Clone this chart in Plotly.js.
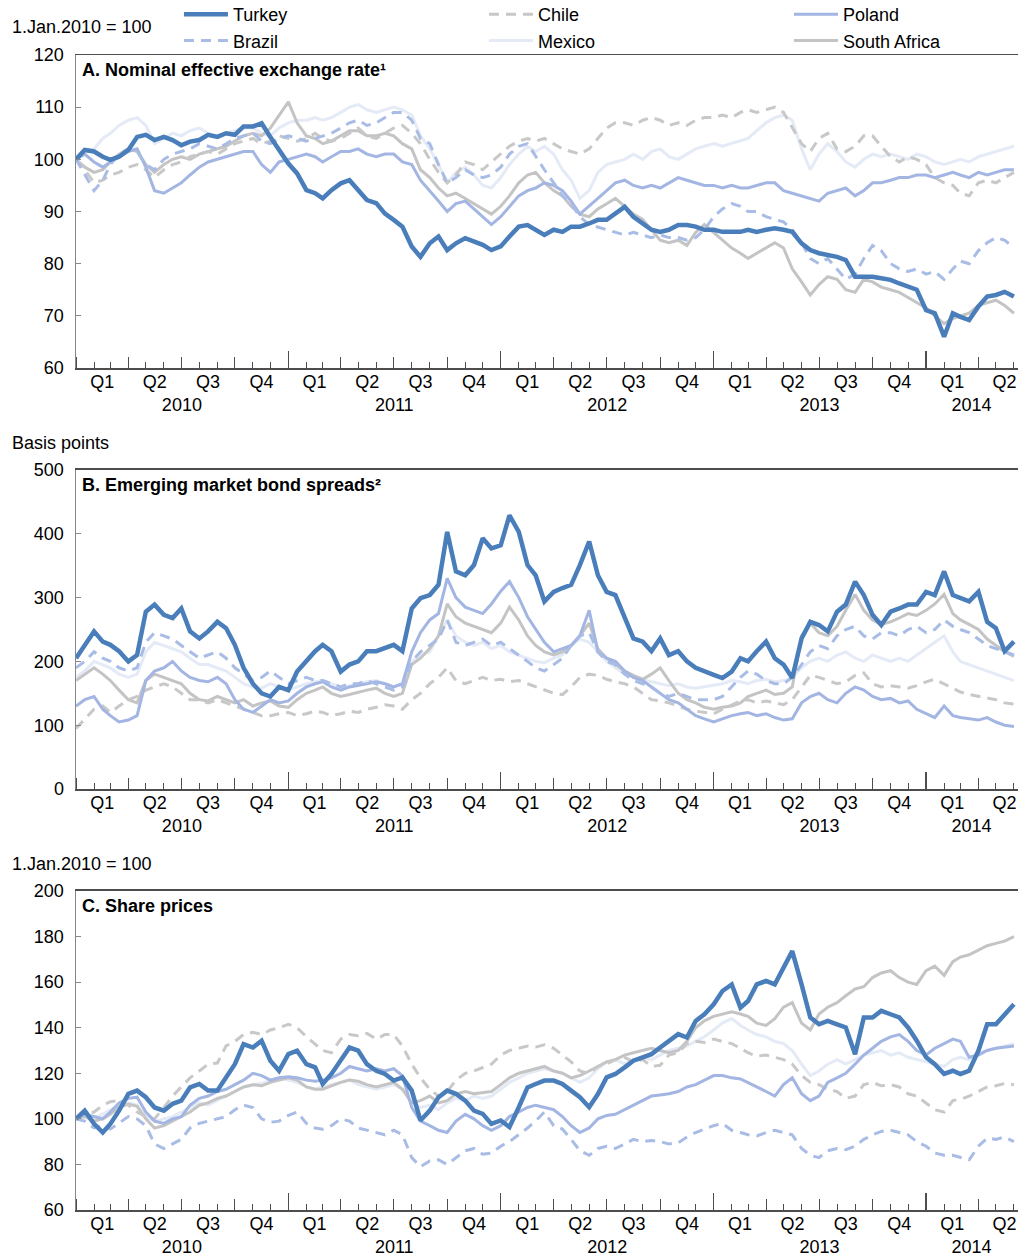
<!DOCTYPE html>
<html><head><meta charset="utf-8">
<script src="https://cdn.plot.ly/plotly-3.0.1.min.js"></script>
<style>html,body{margin:0;padding:0;background:#fff;} #chart{width:1018px;height:1260px;}</style>
</head><body><div id="chart"></div>
<script>
// Sampling grid: 1st and 16th of each month, Jan 2010 - Jun 2014
const dates = [];
for (let y = 2010; y <= 2014; y++) for (let m = 1; m <= 12; m++) for (const d of [1, 16]) {
  const s = y + '-' + String(m).padStart(2, '0') + '-' + String(d).padStart(2, '0');
  if (s <= '2014-06-01') dates.push(s);
}

// Panel A: nominal effective exchange rate (1 Jan 2010 = 100)
const neerTurkey = [100,101.8,101.5,100.5,99.9,100.5,101.8,104.3,104.7,103.7,
104.3,103.7,102.7,103.4,103.7,104.7,104.3,105,104.7,106.3,
106.3,106.9,104.3,101.8,99.2,97.3,94.1,93.5,92.5,94.1,
95.4,96,94.1,92.2,91.6,89.6,88.4,87.1,83.3,81.3,
83.9,85.2,82.6,83.9,84.9,84.2,83.6,82.6,83.3,85.2,
87.1,87.4,86.5,85.5,86.5,86.1,87.1,87.1,87.7,88.4,
88.4,89.6,90.9,89,87.7,86.5,86.1,86.5,87.4,87.4,
87.1,86.5,86.5,86.1,86.1,86.1,86.5,86.1,86.5,86.8,
86.5,86.1,83.9,82.6,82,81.7,81.3,80.7,77.5,77.5,
77.5,77.2,76.9,76.2,75.6,75,71.1,70.5,66,70.5,
69.8,69.2,71.8,73.7,74,74.6,73.7];
const neerBrazil = [100,97,94,96,99,101,102,101.5,99,98,
100,101,101.5,102,103,102.5,102,103,104,104.5,
105,103.5,103,104,104.5,104,103.5,104,104.5,105,
106,107,107.5,106.5,107,108,109,109,107.5,104,
103,99,95.5,96.5,98,97,96.5,97,98.5,101,
102.5,103,100.5,98,95.5,93,91.5,89,87.5,87,
86.5,86,85.5,86,85.5,85,85.5,85,85,84.5,
85,86.5,89,90.5,91.5,91,90,90,89,88.5,
88,86.5,84,81,80,81,79,77,78,81,
83.5,82.5,80,79,78.5,79,78,78.5,77,79,
80.5,80,82.5,84,85,84.5,83];
const neerChile = [100,98,95.5,96,97,97.5,98.5,99,98,96.5,
98,99,99.5,100.5,101,101.5,101,102,103,103.5,
104,103,103.5,104.5,104,103.5,104,105,104,103.5,
104,105,106,104.5,104,105,106,106.5,105,103,
100,97.5,95.5,97,99.5,99,98,99.5,101,102.5,
103.5,104,103.5,104,103,102,101.5,101,102,104,
106,107,107,106.5,107.5,108,107.5,106.5,107,106.5,
107.5,108,108,108.5,108,109,109.5,109,109.5,110,
109,106,103,101.5,104,105,102,101.5,102.5,104.5,
104.5,102.5,100.5,99.5,100.5,100,99,96.5,95.5,95,
93.5,93,95.5,96,95.5,96.5,97.5];
const neerMexico = [100,101.5,102,104,105,106.5,107.5,108,106.5,103,
104,105,104.5,105.5,106,105,104.5,105,105.5,106,
106,105,104.5,106,107,107.5,107.5,108,107.5,108,
109,110,110.5,109.5,109,109.5,110,109.5,108.5,104.5,
102,99,95.5,97.5,98.5,97,95,94.5,96.5,99,
101,102.5,101.5,102.5,101,98,96,92.5,94,97.5,
99,99.5,100,101,100,101.5,102,100.5,100,101,
102,102.5,103,102.5,103,103.5,104,105.5,107,108,
108.5,107.5,102,98,101,103,101.5,99.5,98.5,100,
101,100.5,101,100.5,100,101,100.5,99.5,99,99.5,
100,99.5,100.5,101,101.5,102,102.5];
const neerPoland = [100,101,99.5,98.5,99.5,100.5,101.5,102,98.5,94,
93.5,94.5,95.5,97,98.5,99.5,100,100.5,101,101.5,
101.5,99,97.5,99.5,100,100.5,101,100.5,99.5,100.5,
101.5,101.5,102,101,100.5,101,101,99.5,99,96,
94,92,90,91.5,92,90.5,89,87.5,89,91,
93,94,94.5,95.5,95,94,92,89.5,91,92.5,
94,95.5,96,95,94.5,95,94.5,95.5,96.5,96,
95.5,95,95,94.5,95,94.5,94.5,95,95.5,95.5,
94,93.5,93,92.5,92,93.5,94,94.5,93,94,
95.5,95.5,96,96.5,96.5,97,97,96.5,97,97.5,
97,96.5,97.5,97,97.5,98,98];
const neerSouthAfrica = [100,98.5,97.5,98,99.5,101,102,101.5,99,97.5,
99,100,100.5,100,101,101.5,102,102.5,103.5,104.5,
105,104.5,106,108.5,111,107,104.5,104,103,103.5,
104.5,105.5,105.5,104.5,104.5,105,104.5,103,102,98,
96.5,94.5,93,93.5,92.5,91.5,90.5,89.5,91,93,
95.5,97,97.5,95.5,94,93,91,89.5,89,90.5,
91.5,92.5,91,89.5,88.5,86.5,84.5,84,84.5,83.5,
86,87.5,86,84.5,83,82,81,82,83,84,
83,79,76.5,74,76,77.5,77,75,74.5,77,
76.5,75.5,75,74.5,73.5,72.5,71.5,70,68.5,69.5,
70,70.5,72,72.5,73,72,70.5];

// Panel B: emerging market bond spreads (basis points)
const spreadTurkey = [205,226,247,231,226,216,200,210,278,289,
273,268,283,247,236,247,262,252,226,190,
165,150,145,160,155,184,200,216,226,216,
184,195,200,216,216,221,226,216,283,299,
304,320,403,341,335,351,393,377,382,429,
403,351,335,294,309,315,320,351,388,335,
309,304,268,236,231,216,236,210,216,200,
190,184,179,174,184,205,200,216,231,205,
195,174,236,262,257,247,278,289,325,304,
273,257,278,283,289,289,309,304,341,304,
299,294,309,262,252,216,231];
const spreadBrazil = [190,200,215,205,200,190,185,190,230,245,
240,235,225,215,205,210,215,205,190,180,
170,175,185,175,165,170,175,170,170,165,
160,165,165,170,165,160,155,160,200,215,
225,235,265,230,225,230,235,225,230,220,
210,200,190,185,195,205,225,240,245,215,
200,195,180,170,165,160,150,145,150,145,
140,140,140,145,160,175,185,180,170,165,
165,175,195,215,225,220,240,250,255,240,
235,245,245,240,250,255,245,250,265,255,
250,245,235,225,220,215,210];
const spreadChile = [95,110,125,130,120,130,140,145,155,160,
165,160,150,140,140,135,140,135,130,125,
120,115,115,118,120,115,118,122,120,115,
118,122,120,125,128,132,130,125,140,150,
165,175,190,170,165,170,175,170,172,168,
170,165,160,155,150,148,160,175,180,178,
172,168,165,160,150,140,138,135,130,125,
122,120,118,125,132,138,140,135,138,135,
132,140,160,178,175,170,165,168,178,182,
165,160,162,160,158,162,168,172,165,158,
152,148,145,142,140,135,133];
const spreadMexico = [175,185,200,195,190,180,175,180,215,230,
225,220,215,205,195,195,190,185,175,165,
160,158,165,160,155,160,165,168,170,165,
160,162,165,168,170,165,160,165,200,210,
215,240,265,240,230,225,230,220,225,215,
210,205,200,198,205,210,225,235,230,215,
200,190,180,175,172,168,165,162,165,160,
158,160,162,165,170,168,165,170,172,168,
170,175,190,200,205,200,210,215,205,200,
210,205,200,205,200,210,220,230,240,215,
200,195,190,185,180,175,170];
const spreadPoland = [130,140,145,125,115,105,108,115,170,185,
190,200,185,175,170,168,175,165,140,125,
120,130,140,135,138,150,160,165,168,160,
155,160,162,165,168,165,160,165,215,245,
265,275,330,300,285,280,275,290,310,325,
300,270,250,230,215,220,225,240,280,215,
205,200,185,175,170,160,150,140,135,125,
115,110,105,110,115,118,120,115,118,112,
108,110,135,145,150,140,135,150,160,155,
145,140,142,135,138,125,118,112,130,115,
112,110,108,112,105,100,98];
const spreadSouthAfrica = [170,180,190,180,170,155,140,135,170,180,
175,170,165,150,140,138,145,140,135,140,
130,135,138,130,128,140,150,155,160,150,
145,148,152,155,158,150,145,150,195,205,
220,240,290,270,260,255,250,245,260,285,
265,240,225,215,210,215,225,240,260,220,
205,195,185,178,172,180,190,170,150,140,
135,128,125,128,130,135,145,150,155,148,
150,160,240,260,245,240,255,280,305,280,
265,258,262,268,275,272,280,290,305,275,
265,258,250,235,225,215,208];

// Panel C: share prices (1 Jan 2010 = 100)
const shareTurkey = [100,103.6,97.8,94,97.8,103.6,111,112.4,109.5,105,
103.6,106.6,108,113.8,115.3,112.4,112.4,118.2,124,132.8,
131.3,134.3,125.5,121.1,128.4,129.9,124,122.6,115.3,119.7,
125.5,131.3,129.9,124,121.1,119.7,116.8,118.2,112.4,99.3,
103.6,109.5,112.4,111,108,103.6,102.2,97.8,99.3,96.4,
105.1,113.8,115.3,116.8,116.8,115.3,112.4,109.5,105.1,110.9,
118.2,119.7,122.6,125.5,127,128.4,131.3,134.3,137.2,135.7,
143,145.9,150.3,156.1,159,148.8,151.7,159,160.5,159,
166.3,173.6,159,144.5,141.5,143,141.5,140.1,128.4,144.5,
144.5,147.4,145.9,144.5,140.1,134.3,127,124,119.7,121.1,
119.7,121.1,129.9,141.5,141.5,145.9,150.3];
const shareBrazil = [100,99,96,97,95.5,98,101,100,97,89,
87,89,91,96,98,99,100,101,104,106,
105,100,98.5,99,101.5,103,98,96,95.5,97,
100,99,96,95,94,93,95,93,83,79,
81.5,82,80,83,86,87,84.5,85,88,90,
93,96,99,103,97,95.5,91,86,84,87,
88,87,89,91,90,90.5,90,89,89.5,92,
94,95.5,97,98,95,94,93,92.5,94,95,
94,93,87,84,83,86,87,86.5,88,91,
93,94.5,95,94,93,90,88,85,84,84,
83,82,88,91.5,91,92,90];
const shareChile = [100,102,103,106,107.5,108,106,103,101,100,
105,110,114,118,121,124,124.5,132,134,137,
138,137,139,140,141.5,140,136,133,130,129,
135,137,136.5,137.5,135,137,137,132,124,118,
113,110,112,117,120,121,122.5,124,128,130,
131,132,131.5,132.5,131,128,125,121,120,123,
124,126,127,125,126,123,123.5,128,129,133,
134,133.5,135,134,133,131,129,127.5,128,127,
126,124,119,116,115,113,112,109,110,115,
116,114.5,115,114,111,110,107,104,103,108,
108.5,110,112,114,114.5,115.5,115];
const shareMexico = [100,101,100,102,104,106,107,106,101,99,
100,101,103,105,107,106,108,110,112,114,
115,115.5,117,118,117,116,114,113,114,115,
116,117,115,114,113,114,115,113,107,105,
106,104,107,109,108,110,109,110,113,116,
118,120,121,122,121,120,118,116,118,122,
125,126,124,126,127,126,128,130,131,132,
134,136,139,142,144,141,139,137,136,134,
133,130,124,119,121,124,126,124,126,128,
129,130,128,129,127,126,125,124,123,126,
127,126,129,130,131,132,133];
const sharePoland = [100,102,101,100,103,107,109,109.5,103,99,
98,100,101,106,109,110,112,113,115,117,
120,119,117,118,118.5,118,117,116.5,117,118,
120,123,122,121,122,121,122,119,105,99,
97,95,94,99,102,100,97,95,97,101,
103,105,106,105,104,101,97,94,96,100,
101.5,102,104,106,108,110,110.5,111,112,114,
115,117,119,119,118,117.5,116,114,112,110,
115,118,111,108,110,116,118,120,124,128,
131,134,136,137,134,130,128,131,133,135,
134,127,128,130,131,131.5,132];
const shareSouthAfrica = [100,101,99,100,102,105,106.5,105.5,100,96,
97,99,101,103,106,107,109,110,112,114,
115,114.5,116,117,118,117,114,113,113,114.5,
116,117,116.5,115,114,115,116,113,107,108,
110,107,108,111,112,111,111.5,112,115,118,
120,121,122,123,121,120,118,119,121,123,
125,126,128,129,130,131,130,129,130,134,
140,143,145,146,147,146,145,142,141,144,
149,151,142,139,146,149,151,154,157,158,
162,164,165,162,160,159,165,167,163,169,
171,172,174,176,177,178,180];

const yearLabels = ['2010', '2011', '2012', '2013', '2014'];

const panels = [
  {xa: 'x', ya: 'y', yt: 'x4', yl: 'x7', legend: true, series: {'Turkey': neerTurkey, 'Brazil': neerBrazil, 'Chile': neerChile, 'Mexico': neerMexico, 'Poland': neerPoland, 'South Africa': neerSouthAfrica}},
  {xa: 'x2', ya: 'y2', yt: 'x5', yl: 'x8', legend: false, series: {'Turkey': spreadTurkey, 'Brazil': spreadBrazil, 'Chile': spreadChile, 'Mexico': spreadMexico, 'Poland': spreadPoland, 'South Africa': spreadSouthAfrica}},
  {xa: 'x3', ya: 'y3', yt: 'x6', yl: 'x9', legend: false, series: {'Turkey': shareTurkey, 'Brazil': shareBrazil, 'Chile': shareChile, 'Mexico': shareMexico, 'Poland': sharePoland, 'South Africa': shareSouthAfrica}}
];

const styles = {
  'Turkey':       {color: '#4a7ebb', width: 4.5, dash: 'solid', rank: 1},
  'Chile':        {color: '#c8c8c8', width: 3, dash: '10px,7px', rank: 2},
  'Poland':       {color: '#a3b5e2', width: 3, dash: 'solid', rank: 3},
  'Brazil':       {color: '#a8bce6', width: 3, dash: '10px,7px', rank: 4},
  'Mexico':       {color: '#e4eaf6', width: 3, dash: 'solid', rank: 5},
  'South Africa': {color: '#c4c4c4', width: 3, dash: 'solid', rank: 6}
};
const drawOrder = ['Mexico', 'South Africa', 'Chile', 'Poland', 'Brazil', 'Turkey'];

const traces = [];
panels.forEach(p => {
  drawOrder.forEach(name => {
    const st = styles[name];
    traces.push({
      type: 'scatter', mode: 'lines', name: name,
      x: dates, y: p.series[name], xaxis: p.xa, yaxis: p.ya,
      line: {color: st.color, width: st.width, dash: st.dash},
      showlegend: p.legend, legendrank: st.rank, hoverinfo: 'skip'
    });
  });
  // invisible carriers so the year-tick and year-label axes are drawn
  [p.yt, p.yl].forEach(ax => traces.push({
    type: 'scatter', mode: 'none', x: dates, y: p.series['Turkey'], xaxis: ax, yaxis: p.ya,
    showlegend: false, hoverinfo: 'skip'
  }));
});

const font = {family: 'Liberation Sans, Arial, sans-serif', size: 18, color: '#000'};
const xRange = ['2010-01-01', '2014-06-08'];
const axisDark = '#4d4d4d';

function quarterAxis(anchor) {
  return {domain: [0, 1], anchor: anchor, type: 'date', range: xRange, autorange: false,
    tick0: '2010-01-01', dtick: 'M3', tickformat: 'Q%q', ticklabelmode: 'period',
    ticks: 'inside', ticklen: 11, tickwidth: 1, tickcolor: axisDark,
    showline: true, linecolor: axisDark, linewidth: 1.5, mirror: true,
    showgrid: false, zeroline: false, tickfont: font, automargin: false, ticklabelstandoff: -3,
    minor: {tick0: '2010-01-01', dtick: 'M1', ticks: 'inside', ticklen: 6, tickwidth: 1, tickcolor: axisDark, showgrid: false}};
}
function yearTickAxis(overlay, anchor) {
  return {overlaying: overlay, anchor: anchor, side: 'bottom', type: 'date', range: xRange, autorange: false,
    tick0: '2010-01-01', dtick: 'M12', ticks: 'inside', ticklen: 17, tickwidth: 1.2, tickcolor: axisDark,
    showticklabels: false, showline: false, showgrid: false, zeroline: false, automargin: false};
}
function yearLabelAxis(overlay, anchor) {
  return {overlaying: overlay, anchor: anchor, side: 'bottom', type: 'date', range: xRange, autorange: false,
    tickmode: 'array', tickvals: ['2010-07-02', '2011-07-02', '2012-07-02', '2013-07-02', '2014-03-20'], ticktext: yearLabels,
    ticks: '', showline: false, showgrid: false, zeroline: false, tickfont: font, ticklabelstandoff: 24, automargin: false};
}
function yAxis(anchor, domain, range, dtick) {
  return {anchor: anchor, domain: domain, range: range, autorange: false, tick0: 0, dtick: dtick,
    ticks: 'inside', ticklen: 5, tickwidth: 1, tickcolor: '#888',
    showline: true, linecolor: '#888', linewidth: 1.5, showgrid: false, zeroline: false,
    tickfont: font, automargin: false, ticklabelstandoff: 7};
}

const annFont = font;
const boldFont = {family: font.family, size: 18, color: '#000'};
const layout = {
  width: 1018, height: 1260,
  margin: {l: 76, r: 0, t: 55, b: 50, autoexpand: false},
  paper_bgcolor: '#fff', plot_bgcolor: '#fff',
  font: font, hovermode: false,
  showlegend: true,
  legend: {orientation: 'h', xref: 'paper', yref: 'paper', x: 0.1093, y: 1.0511, xanchor: 'left', yanchor: 'top',
    itemwidth: 44, entrywidth: 246, entrywidthmode: 'pixels', font: font, bgcolor: 'rgba(0,0,0,0)', borderwidth: 0, traceorder: 'normal'},
  xaxis: quarterAxis('y'), xaxis2: quarterAxis('y2'), xaxis3: quarterAxis('y3'),
  xaxis4: yearTickAxis('x', 'y'), xaxis5: yearTickAxis('x2', 'y2'), xaxis6: yearTickAxis('x3', 'y3'),
  xaxis7: yearLabelAxis('x', 'y'), xaxis8: yearLabelAxis('x2', 'y2'), xaxis9: yearLabelAxis('x3', 'y3'),
  yaxis: yAxis('x', [0.7290, 1], [60, 120], 10),
  yaxis2: yAxis('x2', [0.3645, 0.6407], [0, 500], 100),
  yaxis3: yAxis('x3', [0, 0.2762], [60, 200], 20),
  annotations: [
    {text: '1.Jan.2010 = 100', xref: 'paper', yref: 'paper', x: -0.0701, y: 1.0242, xanchor: 'left', yanchor: 'middle', showarrow: false, font: annFont},
    {text: 'Basis points', xref: 'paper', yref: 'paper', x: -0.0701, y: 0.6641, xanchor: 'left', yanchor: 'middle', showarrow: false, font: annFont},
    {text: '1.Jan.2010 = 100', xref: 'paper', yref: 'paper', x: -0.0701, y: 0.2996, xanchor: 'left', yanchor: 'middle', showarrow: false, font: annFont},
    {text: '<b>A. Nominal effective exchange rate¹</b>', xref: 'paper', yref: 'paper', x: 0.0042, y: 0.987, xanchor: 'left', yanchor: 'middle', showarrow: false, font: boldFont},
    {text: '<b>B. Emerging market bond spreads²</b>', xref: 'paper', yref: 'paper', x: 0.0042, y: 0.6277, xanchor: 'left', yanchor: 'middle', showarrow: false, font: boldFont},
    {text: '<b>C. Share prices</b>', xref: 'paper', yref: 'paper', x: 0.0042, y: 0.2632, xanchor: 'left', yanchor: 'middle', showarrow: false, font: boldFont}
  ]
};

Plotly.newPlot('chart', traces, layout, {staticPlot: true, displayModeBar: false});
</script>
</body></html>
